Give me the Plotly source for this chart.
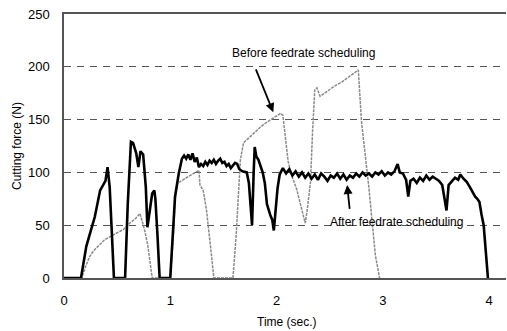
import plotly.graph_objects as go

# ---- data ----
after_t = [0, 0.16, 0.21, 0.25, 0.29, 0.34, 0.37, 0.39, 0.41, 0.43, 0.47, 0.575, 0.60, 0.63, 0.65,
           0.66, 0.68, 0.70, 0.72, 0.745, 0.77, 0.785, 0.80, 0.83, 0.85, 0.86, 0.88, 0.90, 1.0,
           1.02, 1.045, 1.08, 1.11, 1.13, 1.15, 1.17, 1.19, 1.21, 1.23, 1.25, 1.27, 1.29, 1.31,
           1.33, 1.35, 1.37, 1.39, 1.41, 1.43, 1.45, 1.47, 1.49, 1.51, 1.53, 1.55, 1.57, 1.59,
           1.61, 1.63, 1.65, 1.68, 1.72, 1.74, 1.76, 1.77, 1.785, 1.795, 1.81, 1.83, 1.85, 1.87,
           1.89, 1.91, 1.94, 1.96, 1.975, 1.99, 2.01, 2.03, 2.06, 2.09, 2.12, 2.15, 2.18, 2.21,
           2.24, 2.27, 2.30, 2.33, 2.36, 2.39, 2.42, 2.45, 2.48, 2.51, 2.54, 2.57, 2.60, 2.63,
           2.66, 2.69, 2.72, 2.75, 2.78, 2.81, 2.84, 2.87, 2.90, 2.93, 2.96, 2.99, 3.02, 3.05,
           3.08, 3.11, 3.14, 3.16, 3.19, 3.22, 3.24, 3.26, 3.29, 3.32, 3.35, 3.38, 3.41, 3.44,
           3.47, 3.50, 3.53, 3.56, 3.59, 3.60, 3.62, 3.65, 3.68, 3.71, 3.73, 3.76, 3.79, 3.82,
           3.85, 3.87, 3.89, 3.91, 3.93, 3.95, 3.97, 3.99]
after_f = [0, 0, 30, 45, 58, 83, 88, 92, 105, 86, 0, 0, 70, 129, 128,
           124, 118, 105, 120, 117, 86, 48, 60, 80, 83, 75, 40, 0, 0,
           30, 77, 99, 113, 116, 113, 117, 112, 118, 110, 114, 105, 108, 106,
           110, 107, 111, 109, 112, 108, 111, 113, 109, 110, 106, 108, 104, 106,
           109, 108, 103, 101, 100, 90, 60, 50, 100, 124, 115, 112, 106, 100,
           90, 70, 60, 55, 45, 65, 85, 98, 104, 99, 103, 97, 101, 96,
           100, 95, 99, 94, 98, 93, 99, 96, 92, 97, 95, 99, 94, 98,
           93, 97, 95, 99, 96, 100, 97, 99, 96, 100, 98, 101, 97, 100,
           98, 101, 108, 100, 99, 93, 77, 92, 94, 90, 95, 92, 97, 93,
           96, 94, 92, 88, 70, 64, 88, 92, 95, 93, 98, 94, 91, 86,
           80, 77, 75, 72, 60, 50, 25, 0]

before_t = [0, 0.167, 0.20, 0.24, 0.28, 0.33, 0.38, 0.43, 0.50, 0.56, 0.62, 0.68, 0.715, 0.73,
            0.76, 0.79, 0.81, 0.83, 1.0, 1.03, 1.05, 1.07, 1.12, 1.17, 1.22, 1.27, 1.28, 1.31,
            1.34, 1.36, 1.39, 1.41, 1.59, 1.62, 1.64, 1.66, 1.69, 1.75, 1.80, 1.85, 1.90, 1.95,
            2.00, 2.04, 2.06, 2.08, 2.11, 2.15, 2.19, 2.23, 2.27, 2.29, 2.32, 2.34, 2.36, 2.38,
            2.41, 2.48, 2.55, 2.62, 2.69, 2.76, 2.77, 2.80, 2.87, 2.93, 2.96, 2.97]
before_f = [0, 0, 10, 20, 26, 31, 36, 39, 43, 46, 52, 57, 61, 55,
            45, 30, 12, 0, 0, 40, 80, 90, 93, 96, 99, 102, 88, 83,
            65, 49, 20, 0, 0, 40, 80, 112, 128, 134, 138, 143, 147, 150,
            153, 156, 154, 135, 110, 95, 84, 68, 52, 65, 91, 140, 178, 180,
            172, 177, 182, 186, 191, 196, 197, 148, 85, 22, 2, 0]

x_ticks = [0, 1, 2, 3, 4]
y_ticks = [0, 50, 100, 150, 200, 250]

FONT = "Liberation Sans, Arial, sans-serif"

fig = go.Figure()
fig.add_trace(go.Scatter(x=before_t, y=before_f, mode="lines",
                         line=dict(color="#8a8a8a", width=1.5, dash="3px,1px"),
                         name="Before feedrate scheduling", showlegend=False))
fig.add_trace(go.Scatter(x=after_t, y=after_f, mode="lines",
                         line=dict(color="black", width=2.6),
                         name="After feedrate scheduling", showlegend=False))

# annotations
fig.add_annotation(x=2.25, y=213, text="Before feedrate scheduling", showarrow=False,
                   font=dict(family=FONT, size=12, color="black"))
fig.add_annotation(x=1.97, y=157, ax=1.80, ay=199, axref="x", ayref="y", text="",
                   showarrow=True, arrowhead=2, arrowsize=1, arrowwidth=1.8, arrowcolor="black")
fig.add_annotation(x=3.125, y=53, text="After feedrate scheduling", showarrow=False,
                   font=dict(family=FONT, size=12, color="black"))
fig.add_annotation(x=2.665, y=88, ax=2.69, ay=64, axref="x", ayref="y", text="",
                   showarrow=True, arrowhead=2, arrowsize=1, arrowwidth=1.8, arrowcolor="black")

# axis titles placed as paper-anchored text
fig.add_annotation(xref="paper", yref="paper", x=0.505, y=0, yshift=-44, yanchor="middle",
                   text="Time (sec.)", showarrow=False, font=dict(family=FONT, size=12, color="black"))
fig.add_annotation(xref="paper", yref="paper", x=0, xshift=-47, y=0.5, xanchor="center",
                   text="Cutting force (N)", textangle=-90, showarrow=False,
                   font=dict(family=FONT, size=12, color="black"))

fig.update_layout(
    width=507, height=331,
    margin=dict(l=64, r=1, t=14, b=53, autoexpand=False),
    paper_bgcolor="white", plot_bgcolor="white",
    font=dict(family=FONT, size=12, color="black"),
    xaxis=dict(range=[0, 4.16], tickvals=x_ticks, ticktext=[str(v) for v in x_ticks],
               showgrid=False, zeroline=False, showline=True, linecolor="#555", linewidth=1.5,
               mirror=True, ticks="", tickfont=dict(size=13), ticklabelstandoff=10,
               automargin=False),
    yaxis=dict(range=[0, 250], tickvals=y_ticks, ticktext=[str(v) for v in y_ticks],
               showgrid=True, gridcolor="#555", griddash="7px,6px", gridwidth=1,
               zeroline=False, showline=True, linecolor="#555", linewidth=1.5,
               ticks="", tickfont=dict(size=13), ticklabelstandoff=10,
               automargin=False),
)

fig.write_html("out.html", config={"displayModeBar": False},
               post_script="document.body.style.margin='0';document.body.style.overflow='hidden';")
